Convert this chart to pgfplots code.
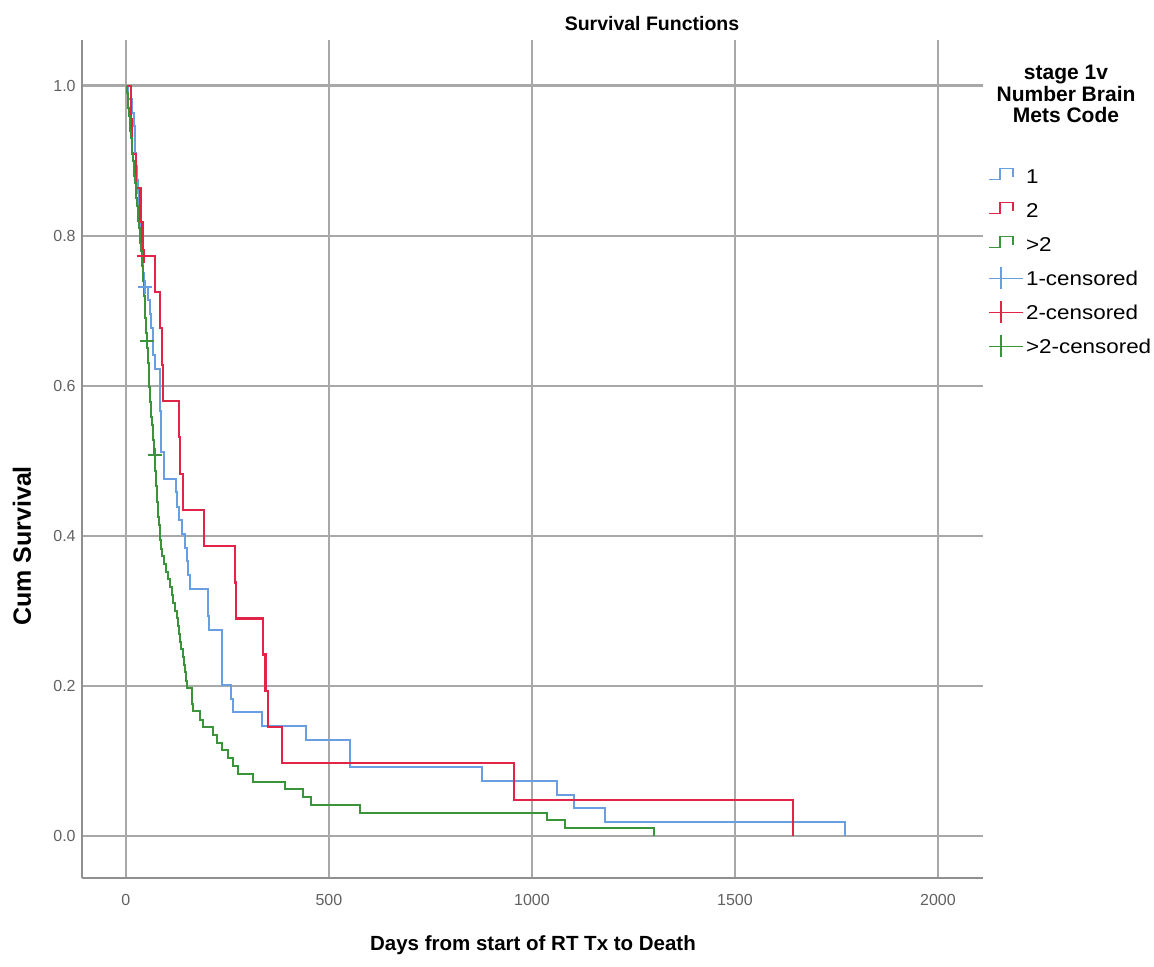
\documentclass[border=0pt]{standalone}
\usepackage{fontspec}
\setmainfont{Liberation Sans}
\newfontfamily\legfont[FakeStretch=1.12]{Liberation Sans}
\usepackage{pgfplots}
\pgfplotsset{compat=1.18}
\usepackage{pgfplotstable}

\definecolor{cblue}{RGB}{105,158,226}
\definecolor{cred}{RGB}{226,36,72}
\definecolor{cgreen}{RGB}{58,148,58}
\definecolor{gridgray}{RGB}{168,168,168}

\pgfplotstableread{
x y
0 1
6 0.982
14 0.964
20 0.946
22 0.929
23 0.911
26 0.893
28 0.875
30 0.857
32 0.839
34 0.821
36 0.804
38 0.786
40 0.768
42 0.750
44 0.732
54 0.714
60 0.696
63 0.677
66 0.659
68 0.641
71 0.622
84 0.604
84.5 0.586
85 0.567
86 0.549
86.5 0.531
87 0.512
94 0.494
95 0.476
123 0.458
126 0.439
132 0.421
138 0.403
146 0.384
150 0.366
154 0.348
158 0.329
202 0.311
203 0.293
204 0.275
236 0.201
258 0.183
264 0.165
336 0.146
443 0.128
552 0.092
877 0.073
1062 0.055
1103 0.037
1180 0.018
1771 0
}\blueline

\pgfplotstableread{
x y
0 1
12 0.955
15 0.909
25 0.864
36 0.818
41 0.773
71 0.725
84 0.677
89 0.628
91 0.580
131 0.532
133 0.483
140 0.435
192 0.387
268 0.338
271 0.290
338 0.242
344 0.193
350 0.145
384 0.097
955 0.048
1643 0
}\redline

\pgfplotstableread{
x y
0 1
4 .99
5 .98
6 .97
8 .96
9 .95
11 .94
12 .93
14 .92
15 .91
17 .90
19 .89
21 .88
22 .87
24 .86
26 .85
28 .84
30 .83
31 .82
33 .81
35 .80
36 .79
38 .78
39 .77
40 .76
41 .75
43 .74
44 .73
45 .72
46 .71
47 .70
48 .69
49 .68
50 .67
51 .66
53 .650
54 .640
55 .630
56 .619
57 .609
58 .599
59 .589
60 .579
62 .569
63 .559
65 .548
66 .538
68 .528
69 .518
70 .508
72 .497
73 .487
74 .477
75 .466
76 .456
77 .445
78 .435
80 .425
81 .414
83 .404
85 .394
87 .383
89 .373
93 .363
98 .352
104 .342
108 .332
113 .321
117 .311
121 .300
125 .290
129 .280
132 .269
134 .259
137 .249
140 .238
142 .228
145 .218
148 .207
150 .197
162 .187
163 .176
165 .166
182 .155
190 .145
214 .135
224 .124
236 .114
251 .104
264 .093
276 .083
313 .0725
392 .062
436 .052
456 .041
576 .031
1037 .0207
1081 .0104
1300 0
}\greenline

\pgfplotstableread{
x y
47 0.732
}\bluecens
\pgfplotstableread{
x y
44 0.773
}\redcens
\pgfplotstableread{
x y
52 0.66
71 0.508
}\greencens

\pgfplotsset{
  stepleg/.style={legend image code/.code={
      \draw[##1, line width=0.9pt] (0pt,-1.6pt) -- (5.5pt,-1.6pt) -- (5.5pt,3.9pt) -- (12pt,3.9pt) -- (12pt,-0.1pt);
      \path[draw=none] (0pt,0pt) -- (17pt,0pt);}},
  censleg/.style={legend image code/.code={
      \draw[##1, line width=0.8pt] (0pt,0pt) -- (17pt,0pt);
      \draw[##1, line width=0.8pt] (6pt,-5.5pt) -- (6pt,5.5pt);}},
}

\begin{document}
\begin{tikzpicture}
\path[use as bounding box] (0pt,0pt) rectangle (577pt,483pt);
\begin{axis}[
  at={(41pt,44pt)}, anchor=south west,
  scale only axis, width=450.5pt, height=419pt,
  xmin=-108, xmax=2111, ymin=-0.056, ymax=1.061,
  axis x line=bottom, axis y line=left,
  axis line style={-, draw=gridgray!85!black, line width=1.1pt},
  xtick={0,500,1000,1500,2000},
  ytick={0,0.2,0.4,0.6,0.8,1.0},
  scaled ticks=false,
  major tick length=0pt,
  tick style={draw=none},
  xmajorgrids, ymajorgrids,
  major x grid style={draw=gridgray, line width=0.9pt},
  major y grid style={draw=gridgray, line width=1.3pt},
  tick label style={font=\fontsize{8}{9}\selectfont, text=black!62},
  /pgf/number format/assume math mode=true,
  xticklabel style={anchor=center, yshift=-11pt, /pgf/number format/1000 sep={}},
  yticklabel style={anchor=east, inner sep=0pt, xshift=-3pt,
    /pgf/number format/.cd, fixed, fixed zerofill, precision=1},
  legend cell align=left,
  legend style={at={(axis description cs:1.0055,0.858)}, anchor=north west,
    draw=none, fill=none, inner sep=0pt, row sep=0pt,
    font=\legfont\fontsize{10}{11}\selectfont,
    nodes={inner xsep=1pt, inner ysep=0pt, text height=7.2pt, text depth=0pt, minimum height=17pt}},
]
\addplot[cblue, line width=1.0pt, const plot, stepleg] table[x=x,y=y] {\blueline};
\addlegendentry{1}
\addplot[cred, line width=1.1pt, const plot, stepleg] table[x=x,y=y] {\redline};
\addlegendentry{2}
\addplot[cgreen, line width=1.0pt, const plot, stepleg] table[x=x,y=y] {\greenline};
\addlegendentry{>2}
\addplot[cblue, only marks, mark=+, mark size=3.5pt, mark options={line width=0.9pt}, censleg] table[x=x,y=y] {\bluecens};
\addlegendentry{1-censored}
\addplot[cred, only marks, mark=+, mark size=3.5pt, mark options={line width=0.9pt}, censleg] table[x=x,y=y] {\redcens};
\addlegendentry{2-censored}
\addplot[cgreen, only marks, mark=+, mark size=3.5pt, mark options={line width=0.9pt}, censleg] table[x=x,y=y] {\greencens};
\addlegendentry{>2-censored}
\end{axis}
\node[font=\bfseries\fontsize{9.75}{11}\selectfont] at (326pt,471pt) {Survival Functions};
\node[font=\bfseries\fontsize{10.25}{12}\selectfont] at (266.5pt,10.5pt) {Days from start of RT Tx to Death};
\node[rotate=90, font=\bfseries\fontsize{12.5}{14}\selectfont] at (11pt,210pt) {Cum Survival};
\node[align=center, font=\bfseries\fontsize{10.5}{10.75}\selectfont] at (533pt,436pt) {stage 1v\\Number Brain\\Mets Code};
\end{tikzpicture}
\end{document}
